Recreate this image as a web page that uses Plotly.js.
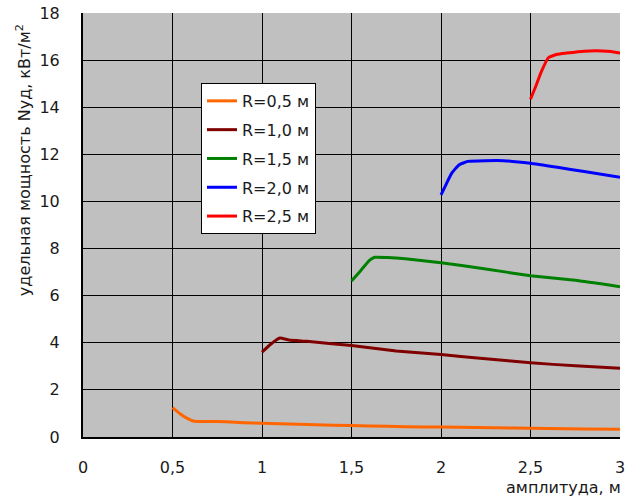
<!DOCTYPE html>
<html>
<head>
<meta charset="utf-8">
<script src="https://cdn.plot.ly/plotly-3.0.1.min.js"></script>
<style>
  html, body { margin: 0; padding: 0; background: #fff; }
  #chart { width: 635px; height: 498px; }
</style>
</head>
<body>
<div id="chart"></div>
<script>
// Specific power vs. amplitude for several radii
const seriesNames = ['R=0,5 м', 'R=1,0 м', 'R=1,5 м', 'R=2,0 м', 'R=2,5 м'];

const xR05 = [0.5, 0.54, 0.58, 0.62, 0.7, 0.8, 0.9, 1.0, 1.2, 1.4, 1.6, 1.8, 2.0, 2.2, 2.4, 2.6, 2.8, 3.0];
const yR05 = [1.25, 1.0, 0.8, 0.67, 0.66, 0.65, 0.61, 0.58, 0.54, 0.5, 0.47, 0.44, 0.42, 0.4, 0.38, 0.36, 0.34, 0.33];

const xR10 = [1.0, 1.05, 1.1, 1.15, 1.25, 1.5, 1.75, 2.0, 2.25, 2.5, 2.75, 3.0];
const yR10 = [3.6, 3.95, 4.2, 4.12, 4.06, 3.88, 3.65, 3.5, 3.32, 3.15, 3.02, 2.92];

const xR15 = [1.5, 1.55, 1.6, 1.63, 1.7, 1.8, 2.0, 2.25, 2.5, 2.75, 3.0];
const yR15 = [6.62, 7.05, 7.5, 7.63, 7.62, 7.57, 7.4, 7.13, 6.85, 6.65, 6.38];

const xR20 = [2.0, 2.03, 2.06, 2.1, 2.15, 2.25, 2.35, 2.5, 2.65, 2.8, 3.0];
const yR20 = [10.28, 10.75, 11.2, 11.55, 11.7, 11.73, 11.73, 11.62, 11.45, 11.27, 11.03];

const xR25 = [2.5, 2.53, 2.56, 2.6, 2.65, 2.7, 2.8, 2.9, 2.95, 3.0];
const yR25 = [14.34, 14.9, 15.5, 16.1, 16.25, 16.3, 16.38, 16.39, 16.37, 16.3];

const xTickVals = [0, 0.5, 1, 1.5, 2, 2.5, 3];
const xTickText = ['0', '0,5', '1', '1,5', '2', '2,5', '3'];
const yTickVals = [0, 2, 4, 6, 8, 10, 12, 14, 16, 18];

const colors = ['#FF6600', '#800000', '#008000', '#0000FF', '#FF0000'];
const xs = [xR05, xR10, xR15, xR20, xR25];
const ys = [yR05, yR10, yR15, yR20, yR25];

const FONT = 'DejaVu Sans, Arial, sans-serif';
const TEXT_COLOR = '#1a1a1a';

const traces = seriesNames.map((name, i) => ({
  type: 'scatter',
  mode: 'lines',
  name: name,
  legendgroup: 'g' + i,
  x: xs[i],
  y: ys[i],
  line: { color: colors[i], width: 3, shape: 'spline', smoothing: 0.4 }
}));

const layout = {
  width: 635,
  height: 498,
  margin: { l: 83, r: 15, t: 13, b: 61 },
  paper_bgcolor: '#ffffff',
  plot_bgcolor: '#C0C0C0',
  font: { family: FONT, size: 16, color: TEXT_COLOR },
  showlegend: true,
  legend: {
    x: 0.2197, y: 0.835, xanchor: 'left', yanchor: 'top',
    bgcolor: '#ffffff', bordercolor: '#000', borderwidth: 1,
    font: { family: FONT, size: 16, color: TEXT_COLOR },
    traceorder: 'grouped', tracegroupgap: 5
  },
  xaxis: {
    range: [0, 3],
    tickvals: xTickVals,
    ticktext: xTickText,
    ticks: '',
    ticklabelstandoff: 15,
    showgrid: true, gridcolor: '#000', gridwidth: 1,
    showline: true, linecolor: '#000', linewidth: 2,
    zeroline: false,
    tickfont: { family: FONT, size: 16, color: TEXT_COLOR }
  },
  yaxis: {
    range: [0, 18],
    tickvals: yTickVals,
    ticks: '',
    ticklabelstandoff: 18,
    showgrid: true, gridcolor: '#000', gridwidth: 1,
    showline: true, linecolor: '#000', linewidth: 2,
    zeroline: false,
    tickfont: { family: FONT, size: 16, color: TEXT_COLOR }
  },
  annotations: [
    {
      text: 'удельная мощность Nуд, кВт/м<sup>2</sup>',
      xref: 'paper', yref: 'paper',
      x: 0, y: 0.653, xshift: -60,
      textangle: -90, showarrow: false,
      xanchor: 'center', yanchor: 'middle',
      font: { family: FONT, size: 16, color: TEXT_COLOR }
    },
    {
      text: 'амплитуда, м',
      xref: 'paper', yref: 'paper',
      x: 1.005, y: 0, yshift: -39,
      xanchor: 'right', yanchor: 'top',
      showarrow: false,
      font: { family: FONT, size: 16, color: TEXT_COLOR }
    }
  ]
};

Plotly.newPlot('chart', traces, layout, { displayModeBar: false, staticPlot: true });
</script>
</body>
</html>
